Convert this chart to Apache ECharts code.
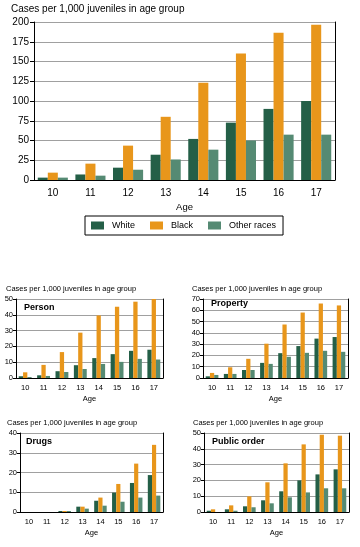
<!DOCTYPE html>
<html>
<head>
<meta charset="utf-8">
<script src="https://cdn.jsdelivr.net/npm/echarts@6/dist/echarts.min.js"></script>
<style>
html,body{margin:0;padding:0;background:#fff;}
#c{width:360px;height:547px;}
</style>
</head>
<body>
<div id="c"></div>
<script>
var ages = ['10','11','12','13','14','15','16','17'];
var seriesNames = ['White','Black','Other races'];
var yTitle = 'Cases per 1,000 juveniles in age group';

var allWhite = [3, 7, 15.6, 32, 52, 72.6, 90, 100];
var allBlack = [9.3, 20.7, 43.5, 80, 123, 160, 186.5, 196.6];
var allOther = [3, 5.5, 13, 26, 38.4, 50, 57.4, 57.4];

var personWhite = [1.1, 1.7, 4.3, 8.1, 12.6, 15.1, 17.2, 17.9];
var personBlack = [3.6, 8.3, 16.4, 28.7, 39.6, 45.1, 48.3, 50];
var personOther = [0.6, 1.3, 3.8, 5.7, 8.9, 10.2, 12.1, 11.7];

var propertyWhite = [1.5, 3.6, 7.1, 13.4, 22, 28.3, 34.9, 36.3];
var propertyBlack = [4.5, 9.5, 17, 30.4, 47.4, 58, 66, 64.3];
var propertyOther = [2.7, 3.6, 7.1, 12.5, 18.8, 22.3, 24.1, 23.2];

var drugsWhite = [0, 0, 0.5, 2.7, 5.7, 9.8, 14.7, 18.7];
var drugsBlack = [0, 0, 0.5, 2.7, 7.3, 14.2, 24.5, 34];
var drugsOther = [0, 0, 0.5, 1.7, 3.2, 5.2, 7.3, 8.3];

var publicWhite = [0.8, 1.7, 3.6, 7.4, 13.1, 20, 23.8, 27];
var publicBlack = [1.7, 4.2, 9.9, 18.8, 30.8, 42.8, 48.9, 48.3];
var publicOther = [0, 0.8, 3, 5.5, 9.3, 12.4, 15, 15];

var panelNames = ['Person','Property','Drugs','Public order'];

var COLORS = ['#245f47', '#e8961b', '#558a73'];
var FONT = 'Liberation Sans, Arial, Helvetica, sans-serif';

var chart = echarts.init(document.getElementById('c'), null, {renderer: 'canvas'});

var panels = [
  {grid:{left:34, top:22, width:301, height:158}, max:200, interval:25, data:[allWhite, allBlack, allOther], big:true, titlePos:[11,4]},
  {grid:{left:16, top:299, width:147, height:79}, max:50, interval:10, data:[personWhite, personBlack, personOther], label:panelNames[0], labelPos:[24,303], titlePos:[6,285]},
  {grid:{left:203, top:299, width:145, height:79}, max:70, interval:10, data:[propertyWhite, propertyBlack, propertyOther], label:panelNames[1], labelPos:[211,299], titlePos:[192,285]},
  {grid:{left:20, top:433, width:143, height:79}, max:40, interval:10, data:[drugsWhite, drugsBlack, drugsOther], label:panelNames[2], labelPos:[26,437], titlePos:[7,419]},
  {grid:{left:204, top:433, width:145, height:79}, max:50, interval:10, data:[publicWhite, publicBlack, publicOther], label:panelNames[3], labelPos:[212,437], titlePos:[193,419]}
];

var grids = [], xAxes = [], yAxes = [], series = [], titles = [];

panels.forEach(function(p, i){
  var big = !!p.big;
  var fs = big ? 10 : 7.5;
  grids.push(p.grid);
  xAxes.push({
    type:'category', gridIndex:i, data:ages,
    name:'Age', nameLocation:'middle', nameGap: big ? 22 : 17,
    nameTextStyle:{color:'#000', fontSize: big ? 9.5 : 7.5, fontFamily:FONT},
    axisLine:{show:true, lineStyle:{color:'#000', width:1}},
    axisTick:{show:false},
    axisLabel:{color:'#000', fontSize:fs, fontFamily:FONT, margin: big ? 8 : 6},
    splitLine:{show:false}
  });
  yAxes.push({
    type:'value', gridIndex:i, min:0, max:p.max, interval:p.interval,
    axisLine:{show:true, lineStyle:{color:'#000', width:1}},
    axisTick:{show:true, length: big ? 4 : 3, lineStyle:{color:'#000'}},
    axisLabel:{color:'#000', fontSize:fs, fontFamily:FONT, margin: big ? 5 : 3},
    splitLine:{show:true, lineStyle:{color:'#a0a0a0', width:1}}
  });
  yAxes.push({
    type:'value', gridIndex:i, position:'right', min:0, max:p.max, interval:p.interval,
    axisLine:{show:true, lineStyle:{color:'#000', width:1}},
    axisTick:{show:false}, axisLabel:{show:false}, splitLine:{show:false}
  });
  var yIdx = yAxes.length - 2;
  p.data.forEach(function(arr, k){
    series.push({
      type:'bar', name:seriesNames[k], xAxisIndex:i, yAxisIndex:yIdx,
      data:arr, barGap:'0%', barCategoryGap: big ? '20%' : '30%',
      itemStyle:{color:COLORS[k]}, silent:true
    });
  });
  titles.push({text:yTitle, left:p.titlePos[0], top:p.titlePos[1], padding:0,
    textStyle:{fontSize: big ? 10 : 7.5, fontWeight:'normal', color:'#000', fontFamily:FONT}});
  if (!big) {
    titles.push({text:p.label, left:p.labelPos[0], top:p.labelPos[1], padding:0,
      textStyle:{fontSize:9, fontWeight:'bold', color:'#000', fontFamily:FONT}});
  }
});

chart.setOption({
  animation:false,
  backgroundColor:'#fff',
  color:COLORS,
  title:titles,
  grid:grids,
  xAxis:xAxes,
  yAxis:yAxes,
  legend:{
    data:seriesNames, orient:'horizontal', left:85, top:216,
    padding:[5,7,5,6],
    borderColor:'#000', borderWidth:1, borderRadius:0,
    itemWidth:13, itemHeight:8, itemGap:15,
    textStyle:{fontSize:9, color:'#000', fontFamily:FONT, padding:[0,0,0,3]},
    icon:'rect'
  },
  series:series
});
</script>
</body>
</html>
